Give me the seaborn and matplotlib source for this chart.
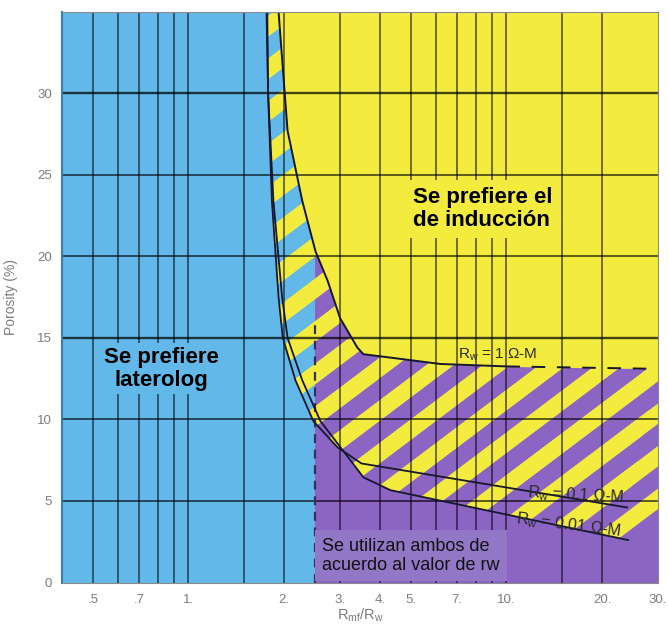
import numpy as np
import matplotlib
matplotlib.use("Agg")
import matplotlib.pyplot as plt
import seaborn as sns
from matplotlib.patches import Polygon
from matplotlib.ticker import NullLocator

# ---------------- data ----------------
x_ticks = [0.5, 0.7, 1, 2, 3, 4, 5, 7, 10, 20, 30]
x_tick_labels = [".5", ".7", "1.", "2.", "3.", "4.", "5.", "7.", "10.", "20.", "30."]
y_ticks = [0, 5, 10, 15, 20, 25, 30]
x_grid = [0.5, 0.6, 0.7, 0.8, 0.9, 1.0, 1.5, 2.0, 3, 4, 5, 6, 7, 8, 9, 10, 15, 20]
y_grid = [5, 10, 15, 20, 25, 30]

# Rw = 1 ohm-m curve (upper / right boundary of hatched zone)
rw1_x = [1.92, 2.05, 2.28, 2.51, 2.74, 3.00, 3.40, 3.55, 6.2, 10.0, 30.0]
rw1_phi = [35.0, 27.7, 23.4, 20.3, 18.5, 16.2, 14.4, 14.0, 13.4, 13.25, 13.1]
# Rw = 0.1 ohm-m curve
rw01_x = [1.77, 1.78, 1.83, 1.92, 1.98, 2.17, 2.47, 2.94, 3.50, 24.0]
rw01_phi = [35.0, 30.0, 23.4, 17.5, 15.0, 12.4, 9.9, 8.3, 7.3, 4.6]
# Rw = 0.01 ohm-m curve
rw001_x = [1.76, 1.78, 1.85, 1.97, 2.05, 2.28, 2.60, 3.23, 3.55, 4.32, 24.2]
rw001_phi = [35.0, 30.0, 23.4, 17.5, 15.0, 12.4, 9.9, 7.5, 6.45, 5.66, 2.6]
band_corner = (30.0, 4.25)
split_x = 2.5          # laterolog / both boundary (dashed)
split_top = 16.0
x_lim = (0.4, 30)
y_lim = (0, 35)

BLUE = "#62B9E9"
YELLOW = "#F3EC3E"
PURPLE = "#8B64C4"
PURPLE_BOX = "#9277C6"
GRAY = "#7d7d7d"

sns.set_theme(style="white")
plt.rcParams["font.family"] = ["Liberation Sans", "DejaVu Sans"]
plt.rcParams["mathtext.fontset"] = "custom"
plt.rcParams["mathtext.rm"] = "Liberation Sans"
plt.rcParams["mathtext.it"] = "Liberation Sans:italic"

FW, FH, DPI = 6.68, 6.26, 100
fig = plt.figure(figsize=(FW, FH), dpi=DPI)
L, B, R, T = 62 / 668, (626 - 582.5) / 626, 658 / 668, (626 - 11.7) / 626
ax = fig.add_axes([L, B, R - L, T - B])
ax.set_xscale("log")
ax.set_xlim(*x_lim)
ax.set_ylim(*y_lim)
ax.set_autoscale_on(False)
ax.set_facecolor(BLUE)

# regions
ax.axvspan(split_x, x_lim[1], color=PURPLE, lw=0, zorder=1)
ax.fill_betweenx(rw1_phi, rw1_x, x_lim[1], color=YELLOW, lw=0, zorder=1.1)

# hatched band (yellow stripes clipped to band polygons)
rw1_pts = list(zip(rw1_x, rw1_phi))
poly_a = rw1_pts + [band_corner] + list(zip(rw001_x, rw001_phi))[::-1]
poly_b = rw1_pts + list(zip(rw01_x, rw01_phi))[::-1]

W = FW * DPI * (R - L)
H = FH * DPI * (T - B)
theta = np.deg2rad(37)
d = np.array([np.cos(theta), np.sin(theta)])
nrm = np.array([-np.sin(theta), np.cos(theta)])
P = 34.0
sw = 0.48 * P
Lng = 2000
for poly in (poly_a, poly_b):
    clip = Polygon(poly, closed=True, transform=ax.transData,
                   facecolor="none", edgecolor="none")
    ax.add_patch(clip)
    for k in range(-16, 18):
        c0 = nrm * (k * P + 6)
        c1 = nrm * (k * P + 6 + sw)
        pts = np.array([c0 - d * Lng, c0 + d * Lng, c1 + d * Lng, c1 - d * Lng])
        pts = pts / np.array([W, H])
        s = Polygon(pts, closed=True, transform=ax.transAxes,
                    facecolor=YELLOW, edgecolor="none", zorder=2)
        ax.add_patch(s)
        s.set_clip_path(clip)

# grid
for xv in x_grid:
    ax.axvline(xv, color="black", alpha=0.68, lw=1.1, zorder=3)
for yv in y_grid:
    ax.axhline(yv, color="black", alpha=0.72, lw=1.7 if yv in (15, 30) else 1.2, zorder=3)

# boundary dashed line at Rmf/Rw = 2.5
ax.plot([split_x, split_x], [0, split_top], color="#3a2c5c", lw=1.6,
        ls=(0, (4, 3)), zorder=3.5)

# curves
line_col = "#17172e"
for xs, ys in [(rw001_x, rw001_phi), (rw01_x, rw01_phi)]:
    sns.lineplot(x=xs, y=ys, sort=False, estimator=None, color=line_col,
                 lw=1.3, ax=ax, zorder=4)
i10 = rw1_x.index(10.0)
sns.lineplot(x=rw1_x[:i10 + 1], y=rw1_phi[:i10 + 1], sort=False, estimator=None,
             color=line_col, lw=1.4, ax=ax, zorder=4)
ax.plot(rw1_x[i10:], rw1_phi[i10:], color=line_col, lw=1.4,
        ls=(0, (7, 6)), zorder=4)

# region texts
ax.text(0.82, 13.1, "Se prefiere\nlaterolog", ha="center", va="center",
        multialignment="center", fontsize=16, fontweight="bold", color="black",
        linespacing=1.15, zorder=6,
        bbox=dict(boxstyle="square,pad=0.15", fc=BLUE, ec="none"))
ax.text(5.10, 22.9, "Se prefiere el\nde inducción", ha="left", va="center",
        multialignment="left", fontsize=16, fontweight="bold", color="black",
        linespacing=1.15, zorder=6,
        bbox=dict(boxstyle="square,pad=0.3", fc=YELLOW, ec="none"))
ax.text(2.64, 0.55, "Se utilizan ambos de\nacuerdo al valor de rw", ha="left",
        va="bottom", fontsize=13, color="#111111", linespacing=1.15, zorder=6,
        bbox=dict(boxstyle="square,pad=0.4", fc=PURPLE_BOX, ec="none"))

# curve labels
lab_col = "#2a2a2a"
ax.text(7.07, 13.45, r"$\mathrm{R_w}$ = 1 Ω-M", ha="left", va="bottom",
        fontsize=11, color=lab_col, zorder=6)
ax.text(11.65, 4.95, r"$\mathrm{R_w}$ = 0.1 Ω-M", ha="left", va="bottom",
        fontsize=11.5, color=lab_col, rotation=-3, rotation_mode="anchor", zorder=6)
ax.text(10.67, 3.35, r"$\mathrm{R_w}$ = 0.01 Ω-M", ha="left", va="bottom",
        fontsize=11.5, color=lab_col, rotation=-7, rotation_mode="anchor", zorder=6)

# axes styling
ax.xaxis.set_minor_locator(NullLocator())
ax.set_xticks(x_ticks)
ax.set_xticklabels(x_tick_labels)
ax.set_yticks(y_ticks)
ax.tick_params(axis="both", length=0, labelsize=9.5, labelcolor=GRAY)
ax.tick_params(axis="x", pad=8)
ax.tick_params(axis="y", pad=7)
ax.set_xlabel(r"$\mathrm{R_{mf}/R_w}$", fontsize=10.5, color=GRAY)
ax.set_ylabel("Porosity (%)", fontsize=10, color=GRAY)
ax.xaxis.set_label_coords(0.5, -0.042)
ax.yaxis.set_label_coords(-0.074, 0.5)
ax.grid(False)
for name, sp in ax.spines.items():
    sp.set_visible(True)
    sp.set_color("#8a8a8a")
    sp.set_linewidth(0.8)
    sp.set_zorder(7)
ax.spines["left"].set_color("#3a7db4")
ax.spines["left"].set_linewidth(1.5)

fig.savefig("out.png", dpi=DPI)
